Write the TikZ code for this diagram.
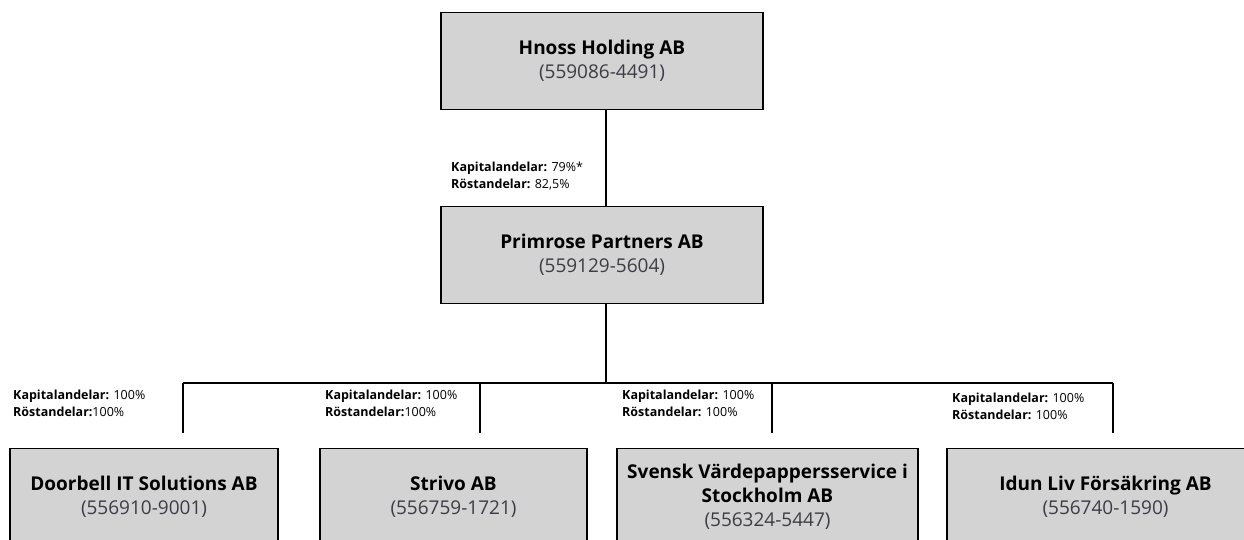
\documentclass[tikz,border=0pt]{standalone}
\usepackage{fontspec}
\setmainfont{Open Sans}
\usetikzlibrary{calc}
\definecolor{boxgray}{RGB}{211,211,211}
\definecolor{nrgray}{RGB}{60,60,70}
\tikzset{%
    company/.style={%
        rectangle,
        draw,
        line width=1.7pt,
        fill=boxgray,
        align=center,
        inner sep=0pt,
        minimum height=97pt,
        font=\fontsize{19}{24}\selectfont\bfseries
    },
    share/.style={%
        anchor=north west,
        align=left,
        inner sep=0pt,
        font=\fontsize{12.5}{16.5}\selectfont
    },
    link/.style={%
        line width=1.7pt
    }
}
\newcommand{\orgnr}[1]{{\color{nrgray}\mdseries(#1)}}

\begin{document}
\begin{tikzpicture}[x=1pt,y=-1pt]
    \useasboundingbox (0,0) rectangle (1244,540);
    \clip (0,0) rectangle (1244,540);
    % bolag
    \node[company, minimum width=322pt] (hnoss) at (602,61)
        {Hnoss Holding AB\\ \orgnr{559086-4491}};
    \node[company, minimum width=322pt] (primrose) at (602,255)
        {Primrose Partners AB\\ \orgnr{559129-5604}};
    \node[company, minimum width=268pt] (doorbell) at (144,497)
        {Doorbell IT Solutions AB\\ \orgnr{556910-9001}};
    \node[company, minimum width=267pt] (strivo) at (453.5,497)
        {Strivo AB\\ \orgnr{556759-1721}};
    \node[company, minimum width=301pt] (svensk) at (767.5,497)
        {Svensk Värdepappersservice i\\ Stockholm AB\\ \orgnr{556324-5447}};
    \node[company, minimum width=317pt] (idun) at (1105.5,497)
        {Idun Liv Försäkring AB\\ \orgnr{556740-1590}};
    % linjer
    \coordinate (trunk) at (606,383);
    \coordinate (j1) at (183,383);
    \coordinate (j2) at (480,383);
    \coordinate (j3) at (772,383);
    \coordinate (j4) at (1113,383);
    \draw[link] (hnoss.south -| trunk) -- (primrose.north -| trunk);
    \draw[link] (primrose.south -| trunk) -- (trunk);
    \draw[link] (j1) -- (j4);
    \foreach \k in {1,...,4} {
        \coordinate (e\k) at ($(j\k)+(0,50)$);
    }
    \foreach \k in {1,...,4}
        \draw[link] (j\k) -- (e\k);
    % andelar
    \node[share] (own0) at (451,162)
        {\textbf{Kapitalandelar:} 79\%*\\ \textbf{Röstandelar:} 82,5\%};
    \node[share] (own1) at (13,390)
        {\textbf{Kapitalandelar:} 100\%\\ \textbf{Röstandelar:}100\%};
    \node[share] (own2) at (325,390)
        {\textbf{Kapitalandelar:} 100\%\\ \textbf{Röstandelar:}100\%};
    \node[share] (own3) at (622,390)
        {\textbf{Kapitalandelar:} 100\%\\ \textbf{Röstandelar:} 100\%};
    \node[share] (own4) at (952,393)
        {\textbf{Kapitalandelar:} 100\%\\ \textbf{Röstandelar:} 100\%};
\end{tikzpicture}
\end{document}
